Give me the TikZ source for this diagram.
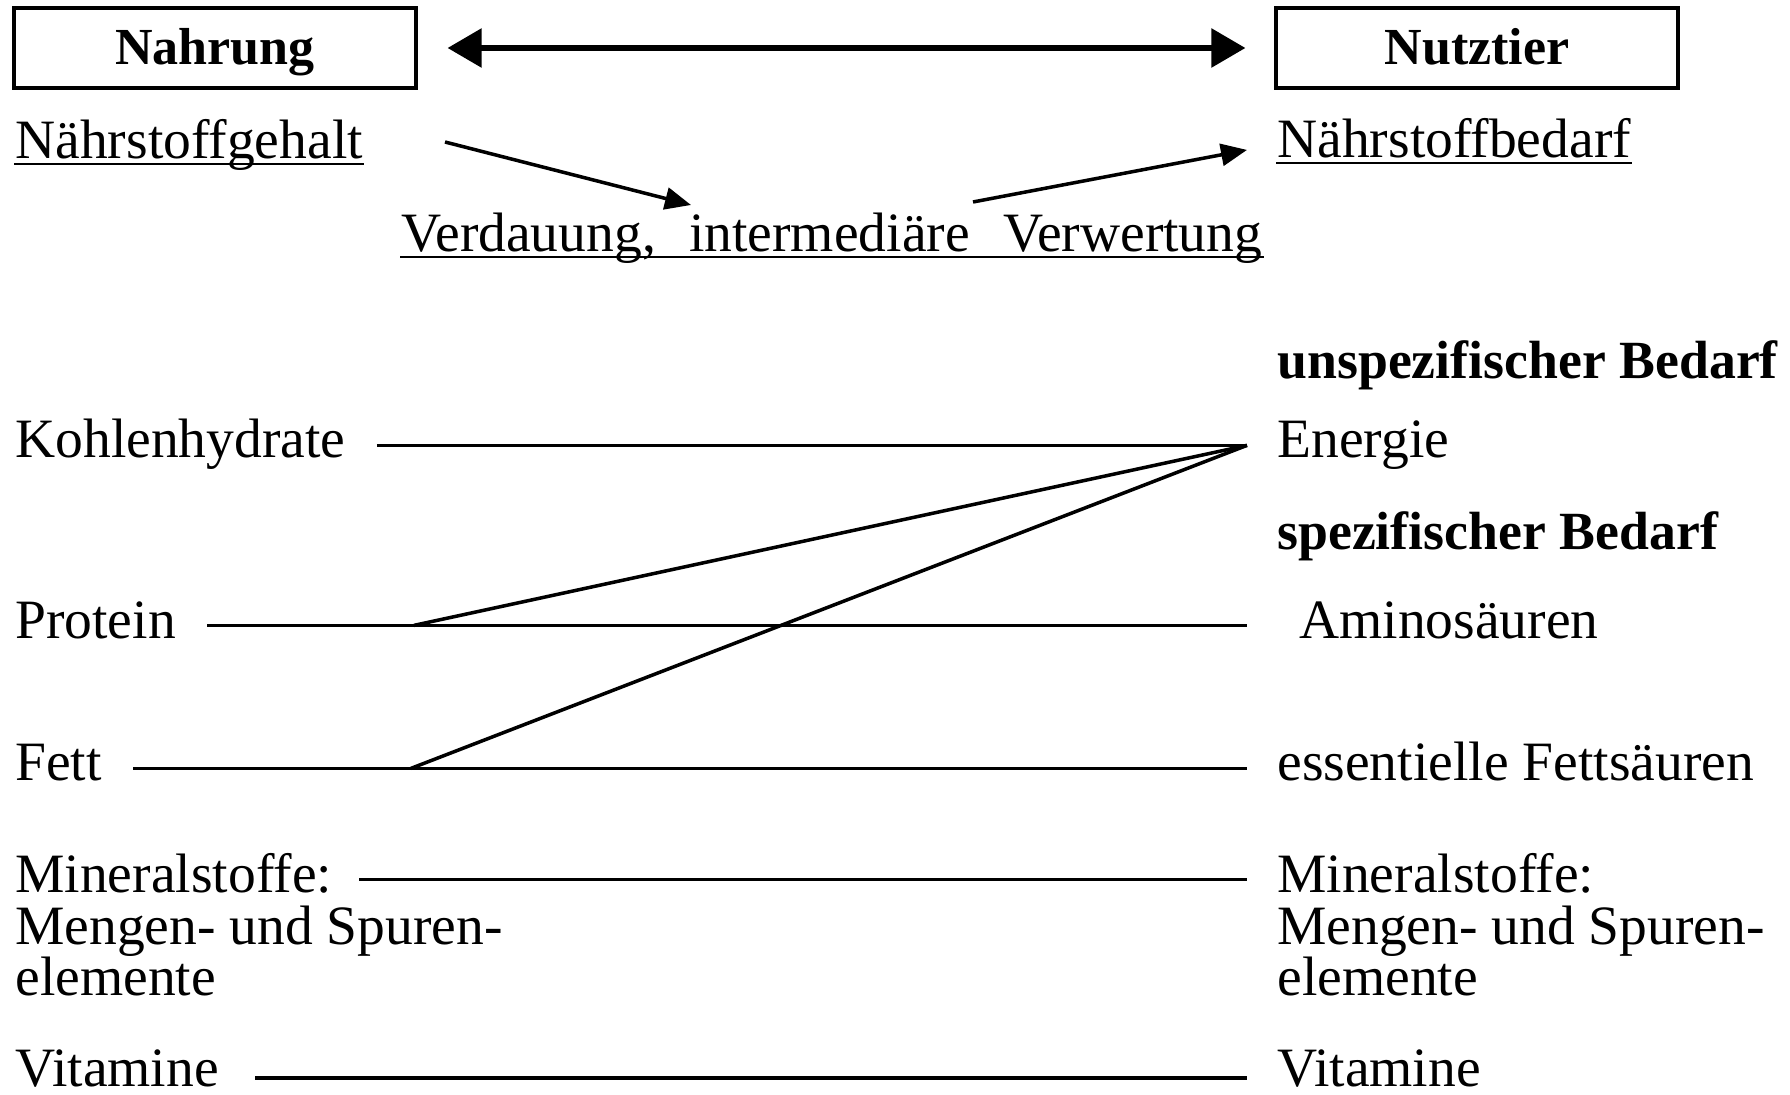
\documentclass[tikz,border=0pt]{standalone}
\usepackage{fontspec}
\setmainfont{Liberation Serif}
\usetikzlibrary{positioning}
\usetikzlibrary{arrows.meta}
\usetikzlibrary{calc}

\begin{document}
\begin{tikzpicture}[>={Triangle[length=2.6mm,width=2.2mm]}, line width=0.8pt, font=\fontsize{15.8}{15}\selectfont]
	\tikzstyle{txt}=[inner sep=0pt, anchor=base west]
	\tikzstyle{head}=[txt, font=\fontsize{15.3}{15}\selectfont\bfseries]
	\tikzstyle{block}=[draw=black, rectangle, line width=0.9pt, minimum width=4.02cm, minimum height=0.8cm, inner sep=0pt, text height=3.4mm, text depth=0pt, font=\fontsize{14.8}{15}\selectfont\bfseries]
	\tikzstyle{link}=[line width=1pt]
	\tikzstyle{ul}=[line width=0.6pt]

	\useasboundingbox (0,0) rectangle (17.90,-10.95);

	% Kopfzeile
	\node[block] (nahrung) at (2.15,-0.48) {Nahrung};
	\node[block] (nutztier) at (14.77,-0.48) {Nutztier};
	\draw[{Triangle[length=3.4mm,width=3.8mm]}-{Triangle[length=3.4mm,width=3.8mm]}, line width=1.6pt, shorten <=3mm, shorten >=2.9mm] (nahrung) -- (nutztier);

	\node[txt] (gehalt) at (0.14,-1.59) {Nährstoffgehalt};
	\node[txt] (bedarf) at (12.76,-1.58) {Nährstoffbedarf};
	\node[txt] (verd) at (4.00,-2.52) {Verdauung,\hspace{0.6em}intermediäre\hspace{0.6em}Verwertung};
	\draw[ul] ([yshift=-1.5pt]gehalt.base west) -- ([yshift=-1.5pt]gehalt.base east);
	\draw[ul] ([yshift=-1.5pt]bedarf.base west) -- ([yshift=-1.5pt]bedarf.base east);
	\draw[ul] ([yshift=-1.5pt]verd.base west) -- ([yshift=-1.5pt]verd.base east);

	\coordinate (gout) at (4.45,-1.42);
	\coordinate (vin) at (6.91,-2.05);
	\coordinate (vout) at (9.73,-2.02);
	\draw[->, line width=1pt] (gout) -- (vin);
	\draw[->, line width=1pt] (vout) -- ([xshift=-2.9mm]bedarf.mid west);

	% Naehrstoffe links
	\node[txt] (kh) at (0.14,-4.58) {Kohlenhydrate};
	\node[txt] (prot) at (0.14,-6.38) {Protein};
	\node[txt] (fett) at (0.14,-7.81) {Fett};
	\node[txt] (minL) at (0.14,-8.92) {Mineralstoffe:};
	\node[txt] (minLb) at ([yshift=-5.2mm]minL.base west) {Mengen- und Spuren-};
	\node[txt] (minLc) at ([yshift=-5.1mm]minLb.base west) {elemente};
	\node[txt] (vitL) at (0.14,-10.86) {Vitamine};

	% Bedarf rechts
	\node[head] (unsp) at (12.76,-3.79) {unspezifischer Bedarf};
	\node[txt] (energie) at (12.76,-4.58) {Energie};
	\node[head] (spez) at (12.76,-5.50) {spezifischer Bedarf};
	\node[txt] (amino) at (12.98,-6.38) {Aminosäuren};
	\node[txt] (efs) at (12.76,-7.81) {essentielle Fettsäuren};
	\node[txt] (minR) at (12.76,-8.92) {Mineralstoffe:};
	\node[txt] (minRb) at ([yshift=-5.2mm]minR.base west) {Mengen- und Spuren-};
	\node[txt] (minRc) at ([yshift=-5.1mm]minRb.base west) {elemente};
	\node[txt] (vitR) at (12.76,-10.86) {Vitamine};

	% Verbindungen
	\coordinate (rail) at (12.47,0);
	\coordinate (pjx) at (4.14,0);
	\coordinate (fjx) at (4.11,0);
	\coordinate (ej) at ([yshift=1.3pt]kh.mid east -| rail);
	\coordinate (pj) at ([yshift=1.3pt]prot.mid east -| pjx);
	\coordinate (fj) at ([yshift=1.3pt]fett.mid east -| fjx);

	\draw[link] ([xshift=3mm,yshift=1.3pt]kh.mid east) -- (ej);
	\draw[link] ([xshift=3mm,yshift=1.3pt]prot.mid east) -- ([yshift=1.3pt]prot.mid east -| rail);
	\draw[link] ([xshift=3mm,yshift=1.3pt]fett.mid east) -- ([yshift=1.3pt]fett.mid east -| rail);
	\draw[link] ([xshift=2.6mm,yshift=1.3pt]minL.mid east) -- ([yshift=1.3pt]minL.mid east -| rail);
	\draw[link] ([xshift=3.5mm]vitL.mid east) -- (vitL.mid east -| rail);
	\draw[link] (pj) -- (ej);
	\draw[link] (fj) -- (ej);
\end{tikzpicture}
\end{document}
